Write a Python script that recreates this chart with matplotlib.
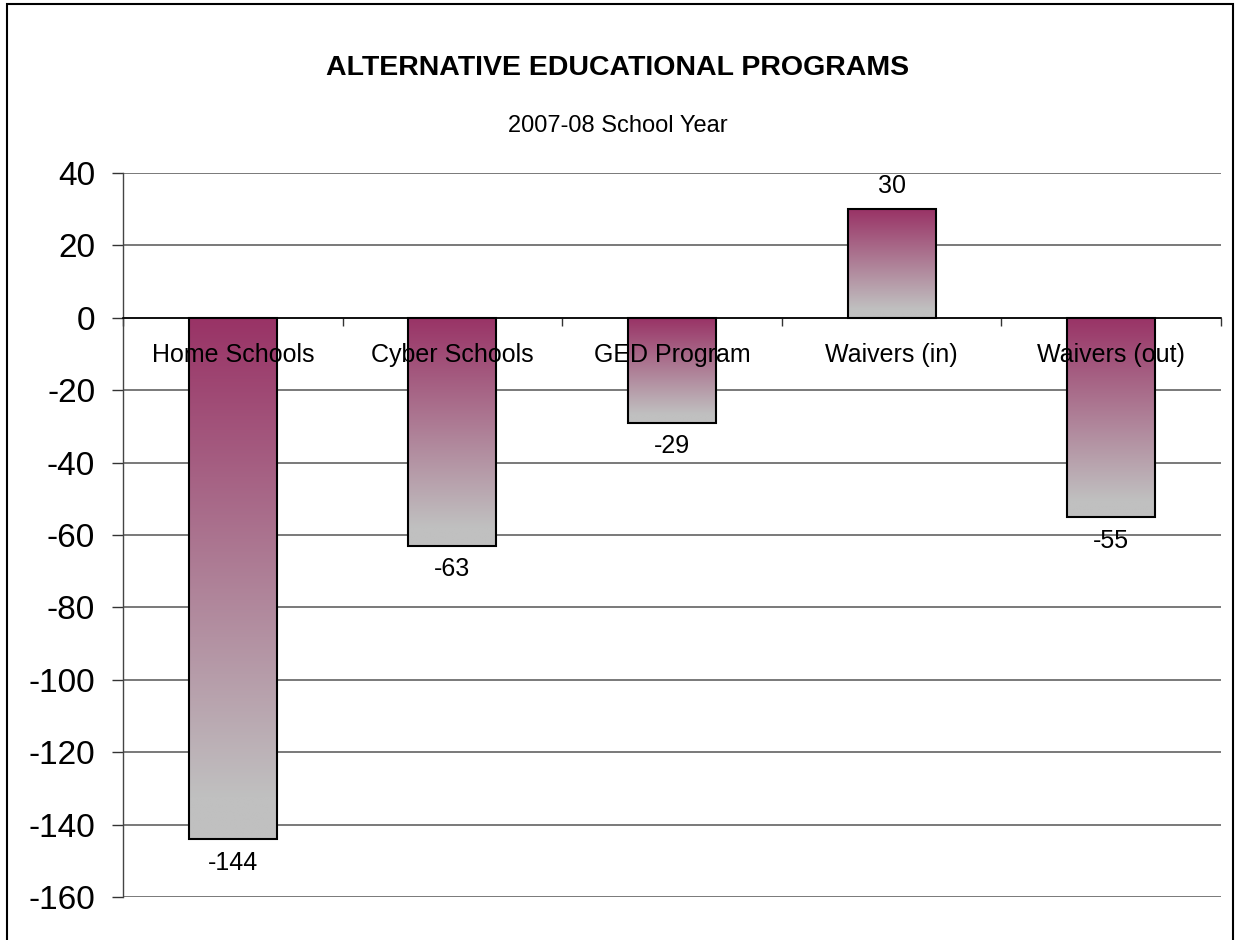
import numpy as np
import matplotlib
matplotlib.use("Agg")
import matplotlib.pyplot as plt
from matplotlib.colors import to_rgb
from matplotlib.patches import Rectangle

categories = ["Home Schools", "Cyber Schools", "GED Program", "Waivers (in)", "Waivers (out)"]
values = [-144, -63, -29, 30, -55]
y_ticks = [40, 20, 0, -20, -40, -60, -80, -100, -120, -140, -160]

title = "ALTERNATIVE EDUCATIONAL PROGRAMS"
subtitle = "2007-08 School Year"

plt.rcParams["font.family"] = ["Liberation Sans", "DejaVu Sans"]

W, H, DPI = 1236, 940, 100
fig = plt.figure(figsize=(W / DPI, H / DPI), dpi=DPI)
fig.patch.set_facecolor("white")

# outer chart frame
fig.patches.append(Rectangle((7 / W, -0.02), (1233 - 7) / W, 1.02 - 4 / H,
                             transform=fig.transFigure, fill=False,
                             edgecolor="black", linewidth=1.5, zorder=0))

ax = fig.add_axes([123 / W, 1 - 897 / H, (1221 - 123) / W, (897 - 173) / H])

top_col = np.array(to_rgb("#993366"))
bot_col = np.array(to_rgb("#C0C0C0"))
t = np.clip(np.linspace(0, 1, 256) / 0.92, 0, 1)[:, None]
grad = (top_col[None, :] * (1 - t) + bot_col[None, :] * t)[:, None, :]

bar_w = 0.4
x = np.arange(len(categories))
for xi, v in zip(x, values):
    lo, hi = min(0, v), max(0, v)
    ax.imshow(grad, extent=[xi - bar_w / 2, xi + bar_w / 2, lo, hi],
              aspect="auto", origin="upper", zorder=3, interpolation="bilinear")
bars = ax.bar(x, values, width=bar_w, facecolor="none", edgecolor="black",
              linewidth=1.5, zorder=4)

for xi, v in zip(x, values):
    off = 17 if v > 0 else -17
    ax.annotate(f"{v}", xy=(xi, v), xytext=(0, off), textcoords="offset points",
                ha="center", va="center", fontsize=18, zorder=5)

# category labels just under the zero line
for xi, c in zip(x, categories):
    ax.annotate(c, xy=(xi, 0), xytext=(0, -27), textcoords="offset points",
                ha="center", va="center", fontsize=18, zorder=6)

ax.set_xlim(-0.5, len(categories) - 0.5)
ax.set_ylim(-160, 40)
ax.set_yticks(y_ticks)
ax.set_yticklabels([str(v) for v in y_ticks], fontsize=24)
ax.tick_params(axis="y", length=8, width=1, direction="out", pad=12, color="#333333")

ax.set_xticks([])
ax.set_xticks(np.arange(len(categories) + 1) - 0.5, minor=True)
ax.tick_params(axis="x", which="minor", length=6, width=1, direction="out", color="#333333")

ax.spines["top"].set_visible(False)
ax.spines["right"].set_visible(False)
ax.spines["bottom"].set_position(("data", 0))
ax.spines["bottom"].set_linewidth(1.2)
ax.spines["left"].set_color("#444444")
ax.spines["left"].set_linewidth(1)

ax.yaxis.grid(True, color="#555555", linewidth=1.1, zorder=1)
ax.set_axisbelow(True)

fig.text(0.5, 1 - 68 / H, title, ha="center", va="center",
         fontsize=20.5, fontweight="bold")
fig.text(0.5, 1 - 126 / H, subtitle, ha="center", va="center", fontsize=17)

fig.savefig("out.png", dpi=DPI)
